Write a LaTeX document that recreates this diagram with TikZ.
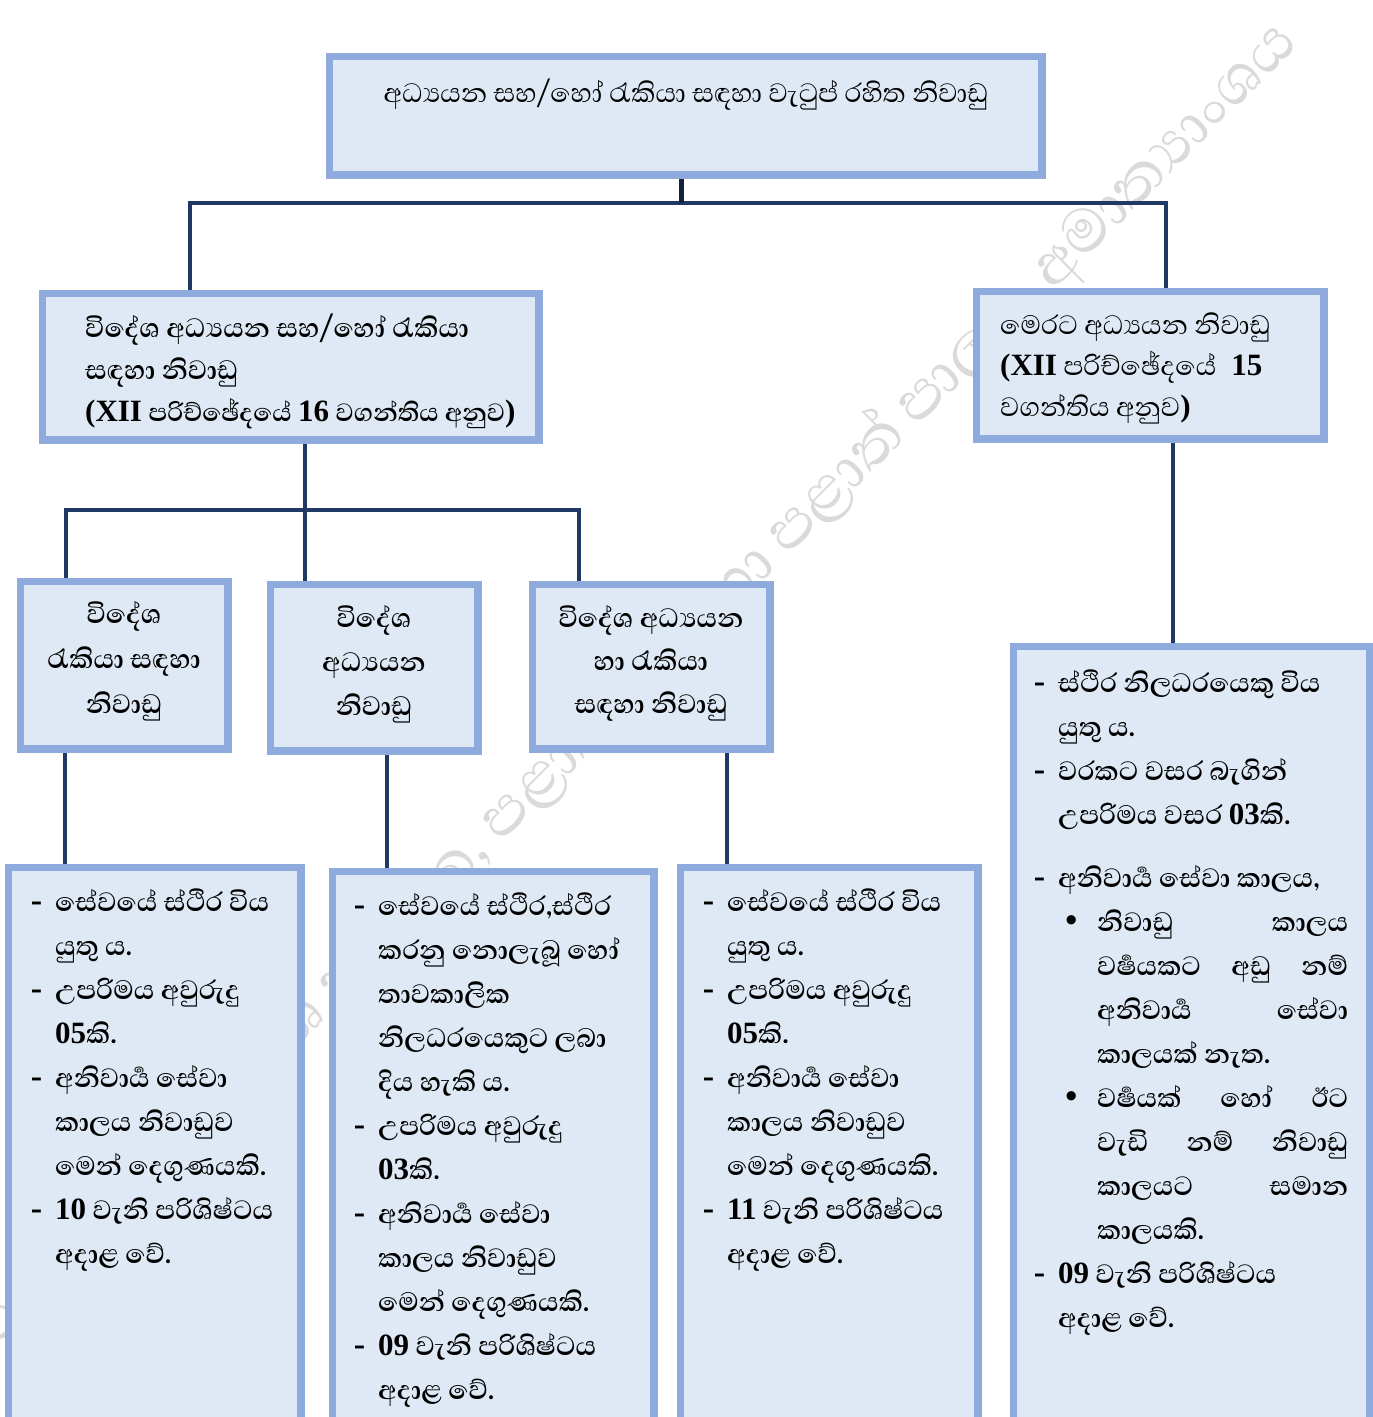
\documentclass[tikz,border=0pt]{standalone}
\usepackage{fontspec}
\newfontfamily\sinfont[Script=Sinhala]{Abhaya Libre}
\newfontfamily\tms{Liberation Serif}
\definecolor{boxfill}{HTML}{DEE9F5}
\definecolor{boxline}{HTML}{8FAADC}
\definecolor{connline}{HTML}{1F3864}
\definecolor{wmcol}{HTML}{DADADA}
\newcommand\nm[1]{{\tms\bfseries\fontsize{31}{44}\selectfont #1}}
\newcommand\dsh{\llap{\tms\bfseries -\hspace{13pt}}}
\newcommand\blt{\hspace*{39pt}\llap{{\tms •}\hspace{20pt}}}
\newcommand\jl[1]{\makebox[251pt][l]{#1}}
\newcommand\fr{\rule{0pt}{40pt}}
\newcommand\anv{අනිවාර්^^^^200dය}
\newcommand\vrs{වර්^^^^200dෂ}
\begin{document}
\begin{tikzpicture}[x=1pt,y=-1pt,
  box/.style={draw=boxline, line width=5pt, fill=boxfill, inner sep=0pt},
  conn/.style={draw=connline, line width=4pt},
  stub/.style={draw=connline!60!black, line width=5pt},
  txt/.style={inner sep=0pt, align=left, anchor=north west, font=\sinfont\bfseries\fontsize{34}{44}\selectfont},
  ctxt/.style={txt, align=center, anchor=north},
  wm/.style={inner sep=0pt, text=wmcol, font=\sinfont\fontsize{78}{80}\selectfont}]
\useasboundingbox (0,0) rectangle (1373,1417);
\clip (0,0) rectangle (1373,1417);
% watermark
\node[wm, rotate=45, anchor=base east] (wmk) at (1300,45) {රාජ්‍ය පරිපාලන, ස්වදේශ කටයුතු, පළාත් සභා හා පළාත් පාලන අමාත්‍යාංශය};
% boxes
\node[box, minimum width=710, minimum height=116] (top) at (685.5,115.5) {};
\node[box, minimum width=494, minimum height=144] (l1) at (290.5,366.5) {};
\node[box, minimum width=345, minimum height=145] (r1) at (1150,365) {};
\node[box, minimum width=205, minimum height=165] (a) at (124,665) {};
\node[box, minimum width=205, minimum height=164] (b) at (374,667.5) {};
\node[box, minimum width=235, minimum height=162] (c) at (651,666.5) {};
\node[box, minimum width=290, minimum height=580] (d) at (154.5,1158.5) {};
\node[box, minimum width=319, minimum height=576] (e) at (493,1160.5) {};
\node[box, minimum width=295, minimum height=580] (f) at (829,1158.5) {};
\node[box, minimum width=354, minimum height=800] (g) at (1191.5,1047.5) {};
% connectors
\coordinate (j0) at (681,203);
\coordinate (cL) at (190,203);
\coordinate (cR) at (1166,203);
\draw[conn] (cL |- l1.north) -- (cL) -- (cR) -- (cR |- r1.north);
\draw[stub] (top.south -| j0) -- (j0);
\coordinate (j1) at (305,510);
\coordinate (cA) at (66,510);
\coordinate (cC) at (579,510);
\draw[conn] (l1.south -| j1) -- (j1 |- b.north);
\draw[conn] (cA |- a.north) -- (cA) -- (cC) -- (cC |- c.north);
\coordinate (vA) at (65,800);
\coordinate (vB) at (387,800);
\coordinate (vC) at (727,800);
\coordinate (vR) at (1173,550);
\draw[conn] (vA |- a.south) -- (vA |- d.north);
\draw[conn] (vB |- b.south) -- (vB |- e.north);
\draw[conn] (vC |- c.south) -- (vC |- f.north);
\draw[conn] (vR |- r1.south) -- (vR |- g.north);
% redraw boxes' borders over connector ends
\foreach \n in {top,l1,r1,a,b,c,d,e,f,g}{\draw[boxline, line width=5pt] (\n.north west) rectangle (\n.south east);}
% texts
\node[ctxt, font=\sinfont\fontsize{34}{44}\selectfont] (ttop) at (686,62) {\fr අධ්‍යයන සහ/හෝ රැකියා සඳහා වැටුප් රහිත නිවාඩු};
\node[txt, font=\sinfont\bfseries\fontsize{34}{42}\selectfont] (tl1) at (85,297) {\fr විදේශ අධ්‍යයන සහ/හෝ රැකියා\\ සඳහා නිවාඩු\\ \nm{(XII} {\fontsize{32}{42}\selectfont පරිච්ඡේදයේ} \nm{16} {\fontsize{32}{42}\selectfont වගන්තිය අනුව}\nm{)}};
\node[txt, font=\sinfont\fontsize{34}{41}\selectfont] (tr1) at (1000,294) {\fr මෙරට අධ්‍යයන නිවාඩු\\ \nm{(XII} පරිච්ඡේදයේ\hspace{15pt}\nm{15}\\ වගන්තිය අනුව\nm{)}};
\node[ctxt, font=\sinfont\bfseries\fontsize{34}{45}\selectfont] (ta) at (124,583) {\fr විදේශ\\ රැකියා සඳහා\\ නිවාඩු};
\node[ctxt, font=\sinfont\bfseries\fontsize{34}{44}\selectfont] (tb) at (374,587) {\fr විදේශ\\ අධ්‍යයන\\ නිවාඩු};
\node[ctxt, font=\sinfont\bfseries\fontsize{34}{43}\selectfont] (tc) at (651,587) {\fr විදේශ අධ්‍යයන\\ හා රැකියා\\ සඳහා නිවාඩු};
\node[txt] (td) at (55,871) {\fr\dsh සේවයේ ස්ථිර විය\\ යුතු ය.\\ \dsh උපරිමය අවුරුදු\\ \nm{05}කි.\\ \dsh \anv{} සේවා\\ කාලය නිවාඩුව\\ මෙන් දෙගුණයකි.\\ \dsh\nm{10} වැනි පරිශිෂ්ටය\\ අදාළ වේ.};
\node[txt] (te) at (378,875) {\fr\dsh සේවයේ ස්ථිර,ස්ථිර\\ කරනු නොලැබූ හෝ\\ තාවකාලික\\ නිලධරයෙකුට ලබා\\ දිය හැකි ය.\\ \dsh උපරිමය අවුරුදු\\ \nm{03}කි.\\ \dsh \anv{} සේවා\\ කාලය නිවාඩුව\\ මෙන් දෙගුණයකි.\\ \dsh\nm{09} වැනි පරිශිෂ්ටය\\ අදාළ වේ.};
\node[txt] (tf) at (727,871) {\fr\dsh සේවයේ ස්ථිර විය\\ යුතු ය.\\ \dsh උපරිමය අවුරුදු\\ \nm{05}කි.\\ \dsh \anv{} සේවා\\ කාලය නිවාඩුව\\ මෙන් දෙගුණයකි.\\ \dsh\nm{11} වැනි පරිශිෂ්ටය\\ අදාළ වේ.};
\node[txt] (tg) at (1058,652) {\fr\dsh ස්ථිර නිලධරයෙකු විය\\ යුතු ය.\\ \dsh වරකට වසර බැගින්\\ උපරිමය වසර \nm{03}කි.\\[19pt] \dsh \anv{} සේවා කාලය,\\ \blt\jl{නිවාඩු\hfill කාලය}\\ \hspace*{39pt}\jl{\vrs යකට\hfill අඩු\hfill නම්}\\ \hspace*{39pt}\jl{\anv\hfill සේවා}\\ \hspace*{39pt}කාලයක් නැත.\\ \blt\jl{\vrs යක්\hfill හෝ\hfill ඊට}\\ \hspace*{39pt}\jl{වැඩි\hfill නම්\hfill නිවාඩු}\\ \hspace*{39pt}\jl{කාලයට\hfill සමාන}\\ \hspace*{39pt}කාලයකි.\\ \dsh\nm{09} වැනි පරිශිෂ්ටය\\ අදාළ වේ.};
\end{tikzpicture}
\end{document}
